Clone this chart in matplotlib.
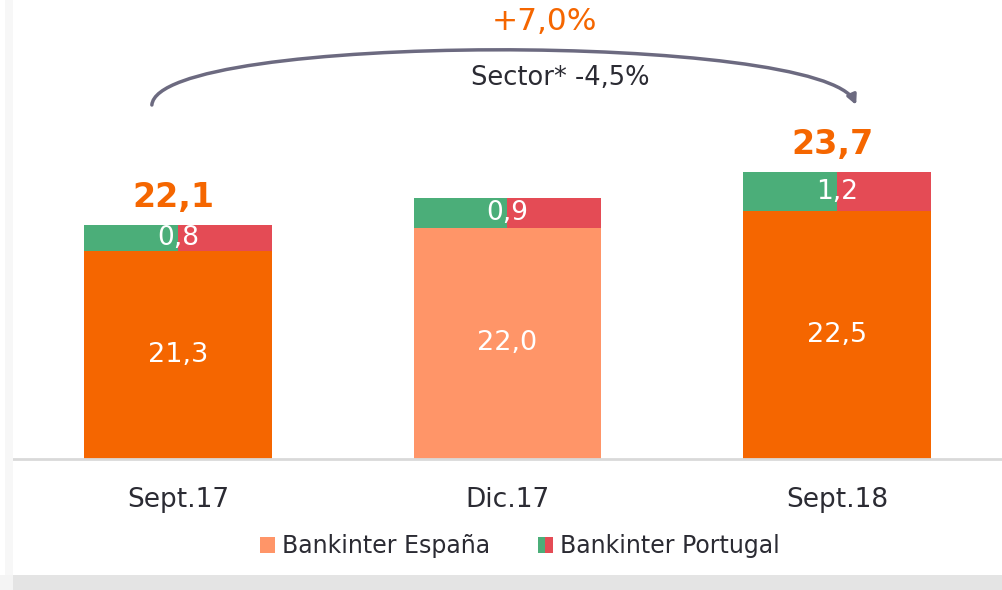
import numpy as np
import matplotlib.pyplot as plt
from matplotlib.patches import Rectangle, FancyArrowPatch
from matplotlib.path import Path
from matplotlib.legend_handler import HandlerTuple

# Datos (miles de millones de euros)
periodos = ['Sept.17', 'Dic.17', 'Sept.18']
espana = [21.3, 22.0, 22.5]
portugal = [0.8, 0.9, 1.2]
totales = [22.1, None, 23.7]
crecimiento = '+7,0%'
sector = 'Sector* -4,5%'

# Colores
naranja = '#F56600'
naranja_claro = '#FF9568'
verde = '#4BAE79'
rojo = '#E44B55'
gris_texto = '#2B2B33'
color_espana = [naranja, naranja_claro, naranja]

W, H = 1002, 590
fig = plt.figure(figsize=(W / 100, H / 100), dpi=100)
fig.patch.set_facecolor('white')

# sombra de la "tarjeta"
fig.patches.append(Rectangle((13 / W, 0), 1, 15 / H, transform=fig.transFigure,
                             facecolor='#E4E4E4', edgecolor='none', zorder=0))
fig.patches.append(Rectangle((0, 0), 13 / W, 15 / H, transform=fig.transFigure,
                             facecolor='#F4F4F4', edgecolor='none', zorder=0))
fig.patches.append(Rectangle((5 / W, 15 / H), 8 / W, 1, transform=fig.transFigure,
                             facecolor='#F7F7F7', edgecolor='none', zorder=0))

# eje: base en y=459 px, 33 px por unidad, empieza en 15
y0 = 15
px_unidad = 33
ax = fig.add_axes([13 / W, (H - 459) / H, (W - 13) / W, 459 / H])
ax.set_facecolor('none')
ax.set_xlim(-0.5, 2.5)
ax.set_ylim(y0, y0 + 459 / px_unidad)

x = np.arange(len(periodos))
ancho = 0.57

ax.bar(x, espana, width=ancho, color=color_espana, zorder=2)
# Portugal: mitad verde, mitad roja
ax.bar(x - ancho / 4, portugal, width=ancho / 2, bottom=espana, color=verde, zorder=2)
ax.bar(x + ancho / 4, portugal, width=ancho / 2, bottom=espana, color=rojo, zorder=2)

for i in range(len(periodos)):
    ax.text(x[i], (y0 + espana[i]) / 2, f'{espana[i]:.1f}'.replace('.', ','),
            ha='center', va='center', color='white', fontsize=19.5, zorder=3)
    ax.text(x[i], espana[i] + portugal[i] / 2, f'{portugal[i]:.1f}'.replace('.', ','),
            ha='center', va='center', color='white', fontsize=19, zorder=3)
    if totales[i] is not None:
        ax.annotate(f'{totales[i]:.1f}'.replace('.', ','), xy=(x[i], totales[i]),
                    xytext=(-3, 8), textcoords='offset points', ha='center', va='bottom',
                    color=naranja, fontsize=24, fontweight='bold')

# flecha curva entre Sept.17 y Sept.18
def a_datos(px, py):
    return ((px - 178) / 330, y0 + (459 - py) / px_unidad)

puntos = [a_datos(152, 105), a_datos(158, 32), a_datos(825, 32), a_datos(857, 105)]
camino = Path(puntos, [Path.MOVETO, Path.CURVE4, Path.CURVE4, Path.CURVE4])
flecha = FancyArrowPatch(path=camino, arrowstyle='-|>', mutation_scale=14,
                         color='#6C6A80', lw=2.5, zorder=4)
ax.add_patch(flecha)

ax.text(*a_datos(545, 22), crecimiento, ha='center', va='center',
        color=naranja, fontsize=22.5)
ax.text(*a_datos(561, 78), sector, ha='center', va='center',
        color=gris_texto, fontsize=18.5)

# ejes
for lado in ['top', 'right', 'left']:
    ax.spines[lado].set_visible(False)
ax.spines['bottom'].set_color('#D9D9D9')
ax.spines['bottom'].set_linewidth(2)
ax.spines['bottom'].set_zorder(3)
ax.set_yticks([])
ax.set_xticks(x)
ax.set_xticklabels(periodos, fontsize=19, color=gris_texto)
ax.tick_params(axis='x', length=0, pad=20)

# leyenda
h_esp = Rectangle((0, 0), 1, 1, facecolor=naranja_claro, edgecolor='none')
h_por = (Rectangle((0, 0), 1, 1, facecolor=verde, edgecolor='none'),
         Rectangle((0, 0), 1, 1, facecolor=rojo, edgecolor='none'))
fig.legend([h_esp, h_por], ['Bankinter España', 'Bankinter Portugal'],
           handler_map={tuple: HandlerTuple(ndivide=None, pad=0)},
           loc='center', bbox_to_anchor=(520 / W, 1 - 546 / H), ncol=2,
           frameon=False, fontsize=17, labelcolor=gris_texto,
           handlelength=0.65, handleheight=0.65, handletextpad=0.3,
           columnspacing=2.0)

fig.savefig('out.png', dpi=100)
